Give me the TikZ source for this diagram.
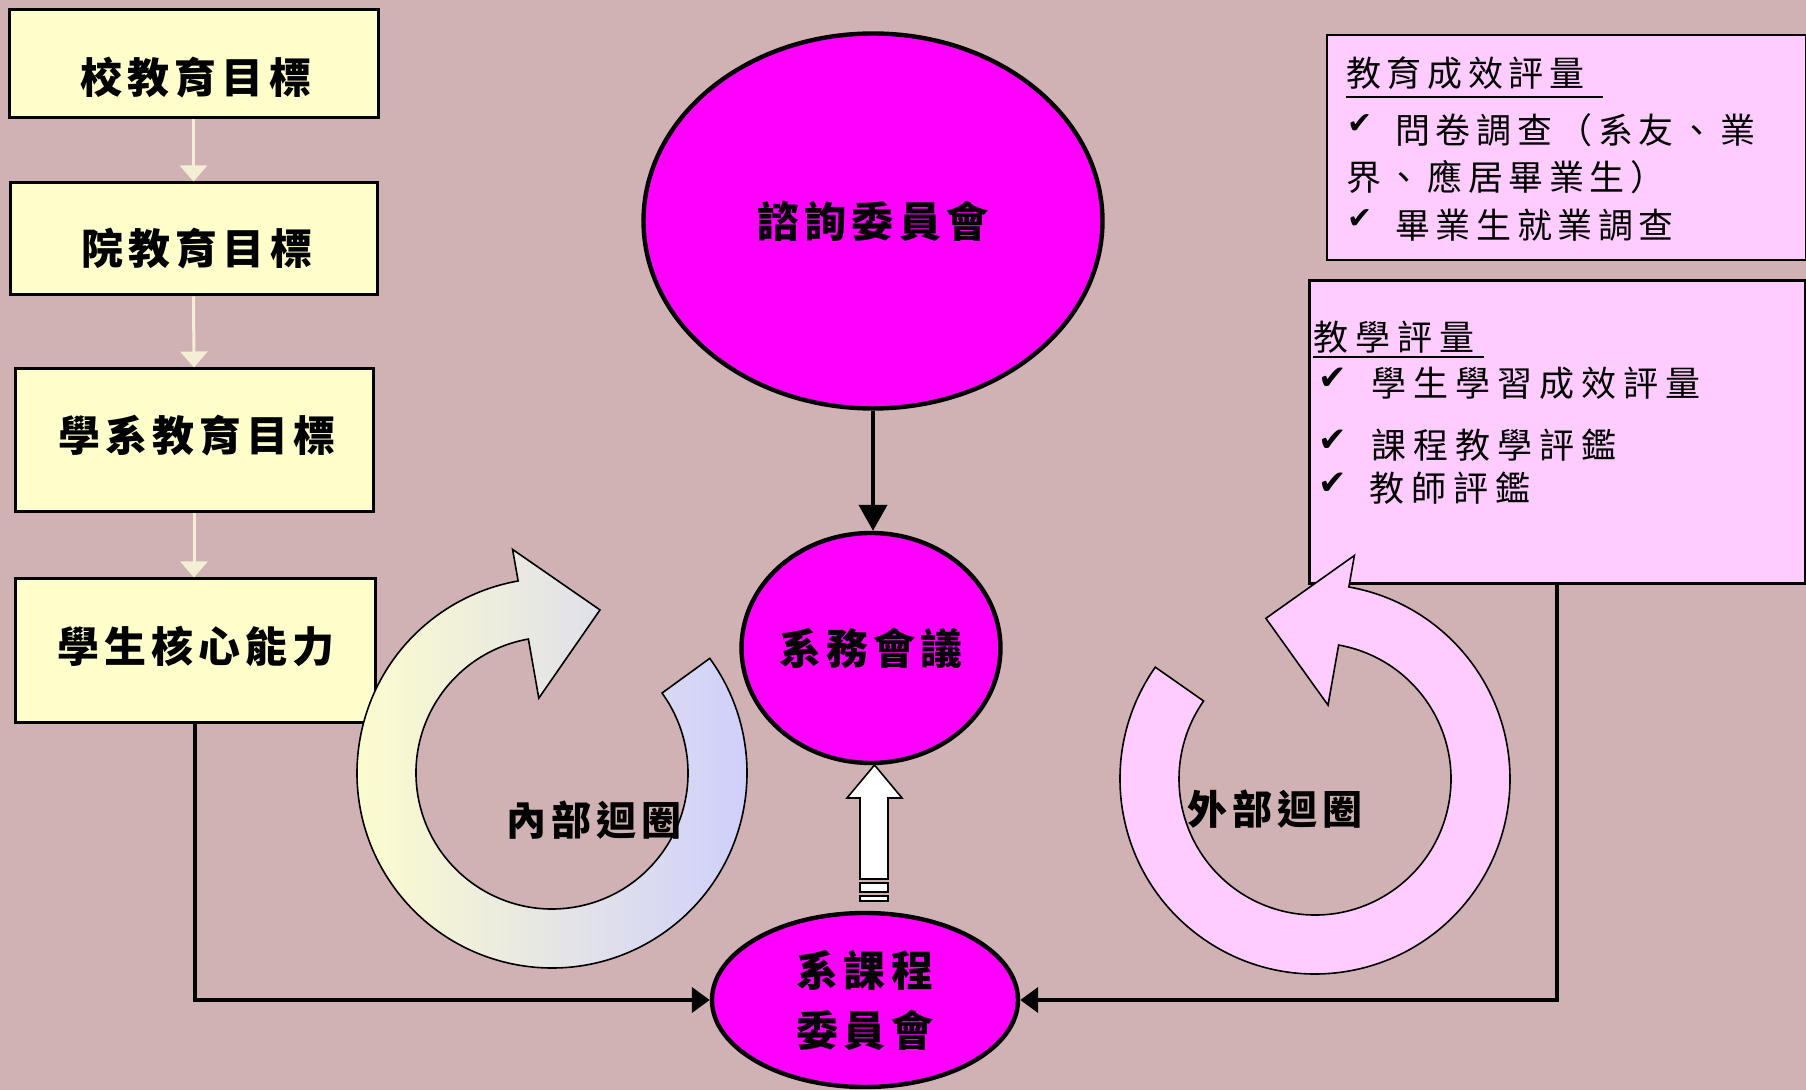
\documentclass[tikz,border=0pt]{standalone}
\usepackage{fontspec}
\usetikzlibrary{arrows.meta,shapes.geometric}
\newfontfamily\cjk{Noto Sans CJK TC}
\newfontfamily\symf{DejaVu Sans}
\definecolor{bg}{RGB}{208,178,180}
\definecolor{boxy}{RGB}{255,255,204}
\definecolor{mag}{RGB}{255,0,255}
\definecolor{pinkb}{RGB}{255,204,255}
\definecolor{cream}{RGB}{244,238,212}
\definecolor{lav}{RGB}{204,204,255}
\tikzset{
  ybox/.style={rectangle, draw=black, line width=1.5pt, fill=boxy, inner sep=0pt},
  pbox/.style={rectangle, draw=black, fill=pinkb, inner sep=0pt},
  btxt/.style={inner sep=0pt, font=\cjk\bfseries\fontsize{21}{25}\selectfont\addfontfeature{LetterSpace=12}},
  etxt/.style={inner sep=0pt, font=\cjk\bfseries\fontsize{21}{30}\selectfont\addfontfeature{LetterSpace=12}},
  ltxt/.style={inner sep=0pt, font=\cjk\bfseries\fontsize{20}{24}\selectfont\addfontfeature{LetterSpace=12}},
  ptxt/.style={inner sep=0pt, anchor=west, font=\cjk\fontsize{17.5}{21}\selectfont\addfontfeature{LetterSpace=16}},
  qtxt/.style={inner sep=0pt, anchor=west, font=\cjk\fontsize{17.5}{21}\selectfont\addfontfeature{LetterSpace=20}},
  chk/.style={inner sep=0pt, font=\symf\fontsize{#1}{#1}\selectfont},
  ell/.style={ellipse, draw=black, line width=2.2pt, fill=mag, inner sep=0pt},
  creamarrow/.style={draw=cream, line width=1.5pt, -{Triangle[width=13.5pt,length=8pt]}},
  conn/.style={line width=2pt, -{Triangle[width=12.5pt,length=9pt]}},
  ringline/.style={draw=black, line width=0.8pt},
}
\begin{document}
\begin{tikzpicture}[x=0.5pt,y=-0.5pt]
\useasboundingbox (0,0) rectangle (1806,1090);
\fill[bg] (0,0) rectangle (1806,1090);

% left column boxes
\node[ybox, minimum width=184.5pt, minimum height=54pt] (b1) at (193.5,64) {};
\node[btxt] (t1) at (196,78) {校教育目標};
\node[ybox, minimum width=183.5pt, minimum height=56pt] (b2) at (193.5,239) {};
\node[btxt] (t2) at (197,249) {院教育目標};
\node[ybox, minimum width=179pt, minimum height=71.5pt] (b3) at (194,440.5) {};
\node[btxt] (t3) at (197,436) {學系教育目標};
\node[ybox, minimum width=180pt, minimum height=72pt] (b4) at (195,651) {};
\node[btxt] (t4) at (196,646) {學生核心能力};

\draw[creamarrow] (b1.south) -- (b2.north);
\draw[creamarrow] (b2.south) -- (b3.north);
\draw[creamarrow] (b3.south) -- (b3.south |- b4.north);

% pink boxes
\node[pbox, line width=1pt, minimum width=239.5pt, minimum height=112.5pt] (p1) at (1566,147.5) {};
\node[ptxt] (p1t) at (1346,73) {教育成效評量};
\draw[line width=0.9pt] (1346,97) -- (1603,97);
\node[chk=15] (c1) at (1360,124) {✔};
\node[ptxt] (p1a) at (1395,130) {問卷調查（系友、業};
\node[ptxt] (p1b) at (1346,177) {界、應居畢業生）};
\node[chk=15] (c2) at (1360,219) {✔};
\node[ptxt] (p1c) at (1395,225) {畢業生就業調查};

\node[pbox, line width=1.5pt, minimum width=248pt, minimum height=151.5pt] (p2) at (1557,432.5) {};
\node[qtxt] (p2t) at (1313,337) {教學評量};
\draw[line width=0.9pt] (1313,357) -- (1484,357);
\node[chk=17] (c3) at (1333,379) {✔};
\node[qtxt] (p2a) at (1371,383) {學生學習成效評量};
\node[chk=17] (c4) at (1333,441) {✔};
\node[qtxt] (p2b) at (1371,445) {課程教學評鑑};
\node[chk=17] (c5) at (1333,484) {✔};
\node[qtxt] (p2c) at (1369,488) {教師評鑑};

% inner loop
\begin{scope}[shift={(552,773)}, y=0.5pt]
\path[ringline, left color=boxy, right color=lav]
  (36:195) arc[start angle=36, end angle=-260, radius=195]
  -- (100:227) -- (73.6:170) -- (100:76) -- (100:136)
  arc[start angle=-260, end angle=36, radius=136] -- cycle;
\end{scope}
% outer loop
\begin{scope}[shift={(1315,779)}, y=0.5pt]
\path[ringline, fill=pinkb]
  (145:195) arc[start angle=145, end angle=440, radius=195]
  -- (80:227) -- (107:168) -- (80:75) -- (80:136)
  arc[start angle=440, end angle=145, radius=136] -- cycle;
\end{scope}

\node[ltxt] (il) at (594,820) {內部迴圈};
\node[ltxt] (ol) at (1275,809) {外部迴圈};

% ellipses
\node[ell, etxt, minimum width=229.5pt, minimum height=187.5pt] (zx) at (873,221) {諮詢委員會};
\node[ell, etxt, minimum width=123pt, minimum height=115pt] (sw) at (871,648) {系務會議};
\node[ell, etxt, align=center, minimum width=153pt, minimum height=87pt] (kc) at (865,1000) {系課程\\委員會};

\draw[line width=2pt, -{Triangle[width=14pt,length=13pt]}] (zx.south) -- (zx.south |- sw.north);

% white block arrow
\draw[fill=white, line width=0.8pt] (847,798) -- (874.5,765) -- (902,798) -- (888,798) -- (888,879) -- (860,879) -- (860,798) -- cycle;
\draw[fill=white, line width=0.8pt] (860,883) rectangle (888,892);
\draw[fill=white, line width=0.8pt] (860,896) rectangle (888,901);

% connectors to curriculum committee
\draw[conn] (b4.south) |- (kc.west);
\draw[conn] (p2.south) |- (kc.east);
\end{tikzpicture}
\end{document}
